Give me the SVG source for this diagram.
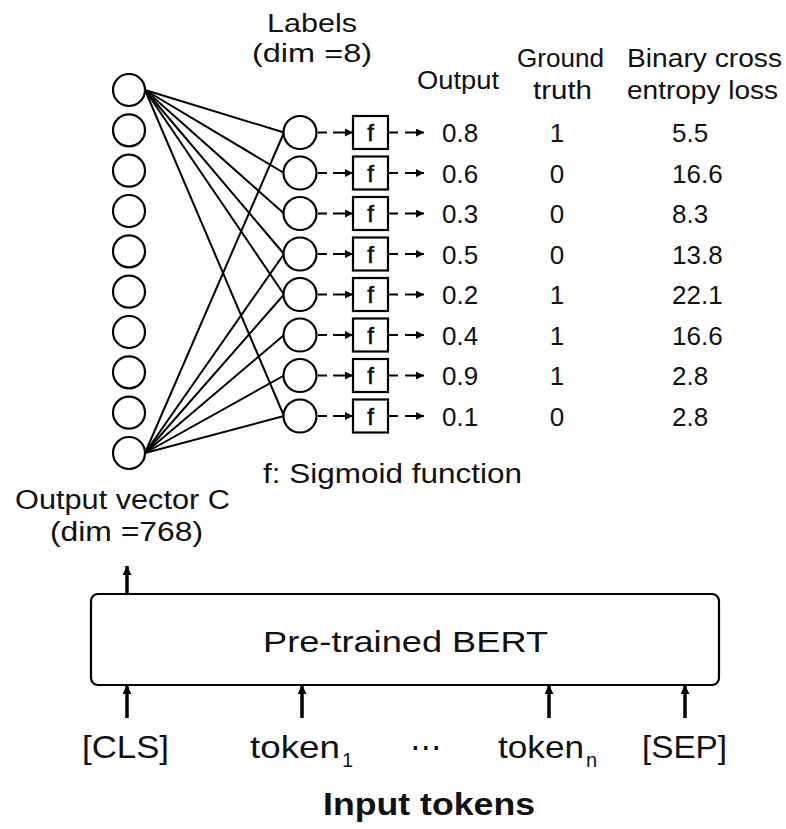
<svg xmlns="http://www.w3.org/2000/svg" width="786" height="829" viewBox="0 0 786 829">
<style>
text{font-family:"Liberation Sans","Noto Sans",sans-serif;fill:#111}
.t26{font-size:26px}
.t27{font-size:27px}
.t28{font-size:28px}
.t30{font-size:30px}
.t32{font-size:32px}
.sub{font-size:20px}
.node{fill:#fff;stroke:#000;stroke-width:2.2}
.fbox{fill:#fff;stroke:#000;stroke-width:2.2}
.edge{stroke:#000;stroke-width:2;fill:none}
.dash{stroke:#000;stroke-width:2;fill:none}
.thick{stroke:#000;stroke-width:3.5;fill:none}
.mid{text-anchor:middle}
</style>
<defs>
<marker id="ah" viewBox="0 0 10 10" refX="10" refY="5" markerWidth="9" markerHeight="8" markerUnits="userSpaceOnUse" orient="auto">
<path d="M0,0 L10,5 L0,10 z" fill="#000"/>
</marker>
<marker id="ahBig" viewBox="0 0 10 10" refX="10" refY="5" markerWidth="9" markerHeight="9" markerUnits="userSpaceOnUse" orient="auto">
<path d="M0,0 L10,5 L0,10 z" fill="#000"/>
</marker>
</defs>

<g id="connectors">
<line class="edge" x1="145" y1="90" x2="284" y2="132.5"/>
<line class="edge" x1="145" y1="90" x2="284" y2="173"/>
<line class="edge" x1="145" y1="90" x2="284" y2="213.5"/>
<line class="edge" x1="145" y1="90" x2="284" y2="254"/>
<line class="edge" x1="145" y1="90" x2="284" y2="294.5"/>
<line class="edge" x1="145" y1="90" x2="284" y2="416"/>
<line class="edge" x1="145" y1="453" x2="284" y2="132.5"/>
<line class="edge" x1="145" y1="453" x2="284" y2="254"/>
<line class="edge" x1="145" y1="453" x2="284" y2="294.5"/>
<line class="edge" x1="145" y1="453" x2="284" y2="335"/>
<line class="edge" x1="145" y1="453" x2="284" y2="375.5"/>
<line class="edge" x1="145" y1="453" x2="284" y2="416"/>
<g id="rowarrows">
<path class="dash" d="M318 132.5h9 M389 132.5h9"/><line class="dash" x1="333" y1="132.5" x2="353" y2="132.5" marker-end="url(#ah)"/><line class="dash" x1="405" y1="132.5" x2="424" y2="132.5" marker-end="url(#ah)"/>
<path class="dash" d="M318 173h9 M389 173h9"/><line class="dash" x1="333" y1="173" x2="353" y2="173" marker-end="url(#ah)"/><line class="dash" x1="405" y1="173" x2="424" y2="173" marker-end="url(#ah)"/>
<path class="dash" d="M318 213.5h9 M389 213.5h9"/><line class="dash" x1="333" y1="213.5" x2="353" y2="213.5" marker-end="url(#ah)"/><line class="dash" x1="405" y1="213.5" x2="424" y2="213.5" marker-end="url(#ah)"/>
<path class="dash" d="M318 254h9 M389 254h9"/><line class="dash" x1="333" y1="254" x2="353" y2="254" marker-end="url(#ah)"/><line class="dash" x1="405" y1="254" x2="424" y2="254" marker-end="url(#ah)"/>
<path class="dash" d="M318 294.5h9 M389 294.5h9"/><line class="dash" x1="333" y1="294.5" x2="353" y2="294.5" marker-end="url(#ah)"/><line class="dash" x1="405" y1="294.5" x2="424" y2="294.5" marker-end="url(#ah)"/>
<path class="dash" d="M318 335h9 M389 335h9"/><line class="dash" x1="333" y1="335" x2="353" y2="335" marker-end="url(#ah)"/><line class="dash" x1="405" y1="335" x2="424" y2="335" marker-end="url(#ah)"/>
<path class="dash" d="M318 375.5h9 M389 375.5h9"/><line class="dash" x1="333" y1="375.5" x2="353" y2="375.5" marker-end="url(#ah)"/><line class="dash" x1="405" y1="375.5" x2="424" y2="375.5" marker-end="url(#ah)"/>
<path class="dash" d="M318 416h9 M389 416h9"/><line class="dash" x1="333" y1="416" x2="353" y2="416" marker-end="url(#ah)"/><line class="dash" x1="405" y1="416" x2="424" y2="416" marker-end="url(#ah)"/>
</g>
<line class="thick" x1="127" y1="594" x2="127" y2="566" marker-end="url(#ahBig)"/>
<line class="thick" x1="127" y1="718" x2="127" y2="685" marker-end="url(#ahBig)"/>
<line class="thick" x1="302" y1="718" x2="302" y2="685" marker-end="url(#ahBig)"/>
<line class="thick" x1="549" y1="718" x2="549" y2="685" marker-end="url(#ahBig)"/>
<line class="thick" x1="685" y1="718" x2="685" y2="685" marker-end="url(#ahBig)"/>
</g>

<g id="outputVectorC">
<circle class="node" cx="129" cy="90" r="16"/>
<circle class="node" cx="129" cy="130.3" r="16"/>
<circle class="node" cx="129" cy="170.7" r="16"/>
<circle class="node" cx="129" cy="211" r="16"/>
<circle class="node" cx="129" cy="251.3" r="16"/>
<circle class="node" cx="129" cy="291.7" r="16"/>
<circle class="node" cx="129" cy="332" r="16"/>
<circle class="node" cx="129" cy="372.3" r="16"/>
<circle class="node" cx="129" cy="412.7" r="16"/>
<circle class="node" cx="129" cy="453" r="16"/>
<text class="t27" x="15" y="509" textLength="215" lengthAdjust="spacingAndGlyphs">Output vector C</text>
<text class="t27" x="50" y="541" textLength="153" lengthAdjust="spacingAndGlyphs">(dim =768)</text>
</g>

<g id="labels">
<circle class="node" cx="300" cy="132.5" r="16.5"/>
<circle class="node" cx="300" cy="173" r="16.5"/>
<circle class="node" cx="300" cy="213.5" r="16.5"/>
<circle class="node" cx="300" cy="254" r="16.5"/>
<circle class="node" cx="300" cy="294.5" r="16.5"/>
<circle class="node" cx="300" cy="335" r="16.5"/>
<circle class="node" cx="300" cy="375.5" r="16.5"/>
<circle class="node" cx="300" cy="416" r="16.5"/>
<text class="t26" x="267" y="32" textLength="90" lengthAdjust="spacingAndGlyphs">Labels</text>
<text class="t26" x="252" y="62" textLength="120" lengthAdjust="spacingAndGlyphs">(dim =8)</text>
</g>

<g id="sigmoid">
<rect class="fbox" x="353" y="116" width="35" height="33"/>
<rect class="fbox" x="353" y="156.5" width="35" height="33"/>
<rect class="fbox" x="353" y="197" width="35" height="33"/>
<rect class="fbox" x="353" y="237.5" width="35" height="33"/>
<rect class="fbox" x="353" y="278" width="35" height="33"/>
<rect class="fbox" x="353" y="318.5" width="35" height="33"/>
<rect class="fbox" x="353" y="359" width="35" height="33"/>
<rect class="fbox" x="353" y="399.5" width="35" height="33"/>
<g style="font-size:24px">
<text x="370.5" y="141" class="mid" stroke="#111" stroke-width="0.6">f</text>
<text x="370.5" y="181.5" class="mid" stroke="#111" stroke-width="0.6">f</text>
<text x="370.5" y="222" class="mid" stroke="#111" stroke-width="0.6">f</text>
<text x="370.5" y="262.5" class="mid" stroke="#111" stroke-width="0.6">f</text>
<text x="370.5" y="303" class="mid" stroke="#111" stroke-width="0.6">f</text>
<text x="370.5" y="343.5" class="mid" stroke="#111" stroke-width="0.6">f</text>
<text x="370.5" y="384" class="mid" stroke="#111" stroke-width="0.6">f</text>
<text x="370.5" y="424.5" class="mid" stroke="#111" stroke-width="0.6">f</text>
</g>
<text class="t28" x="263" y="483" textLength="259" lengthAdjust="spacingAndGlyphs">f: Sigmoid function</text>
</g>

<g id="outputs" class="t26">
<text x="417" y="89" textLength="82" lengthAdjust="spacingAndGlyphs">Output</text>
<text x="442" y="142">0.8</text>
<text x="442" y="182.5">0.6</text>
<text x="442" y="223">0.3</text>
<text x="442" y="263.5">0.5</text>
<text x="442" y="304">0.2</text>
<text x="442" y="344.5">0.4</text>
<text x="442" y="385">0.9</text>
<text x="442" y="425.5">0.1</text>
</g>

<g id="groundTruth" class="t26">
<text x="517" y="67" textLength="87" lengthAdjust="spacingAndGlyphs">Ground</text>
<text x="533" y="99" textLength="59" lengthAdjust="spacingAndGlyphs">truth</text>
<text x="557" y="142" class="mid">1</text>
<text x="557" y="182.5" class="mid">0</text>
<text x="557" y="223" class="mid">0</text>
<text x="557" y="263.5" class="mid">0</text>
<text x="557" y="304" class="mid">1</text>
<text x="557" y="344.5" class="mid">1</text>
<text x="557" y="385" class="mid">1</text>
<text x="557" y="425.5" class="mid">0</text>
</g>

<g id="loss" class="t26">
<text x="627" y="67" textLength="155" lengthAdjust="spacingAndGlyphs">Binary cross</text>
<text x="627" y="99" textLength="151" lengthAdjust="spacingAndGlyphs">entropy loss</text>
<text x="672" y="142">5.5</text>
<text x="672" y="182.5">16.6</text>
<text x="672" y="223">8.3</text>
<text x="672" y="263.5">13.8</text>
<text x="672" y="304">22.1</text>
<text x="672" y="344.5">16.6</text>
<text x="672" y="385">2.8</text>
<text x="672" y="425.5">2.8</text>
</g>

<g id="bert">
<rect x="91" y="594" width="628" height="91" rx="7" ry="7" fill="#fff" stroke="#000" stroke-width="2.2"/>
<text class="t30" x="263" y="652" textLength="285" lengthAdjust="spacingAndGlyphs">Pre-trained BERT</text>
</g>

<g id="inputTokens">
<text class="t32" x="82" y="758" textLength="87" lengthAdjust="spacingAndGlyphs">[CLS]</text>
<text class="t32" x="250" y="758" textLength="90" lengthAdjust="spacingAndGlyphs">token</text>
<text class="sub" x="342" y="767">1</text>
<text class="t32" x="410" y="758" style="font-family:'DejaVu Sans',sans-serif">⋯</text>
<text class="t32" x="498" y="758" textLength="86" lengthAdjust="spacingAndGlyphs">token</text>
<text class="sub" x="586" y="767">n</text>
<text class="t32" x="642" y="758" textLength="85" lengthAdjust="spacingAndGlyphs">[SEP]</text>
<text class="t32" x="323" y="815" textLength="212" lengthAdjust="spacingAndGlyphs" style="font-weight:bold">Input tokens</text>
</g>
</svg>
